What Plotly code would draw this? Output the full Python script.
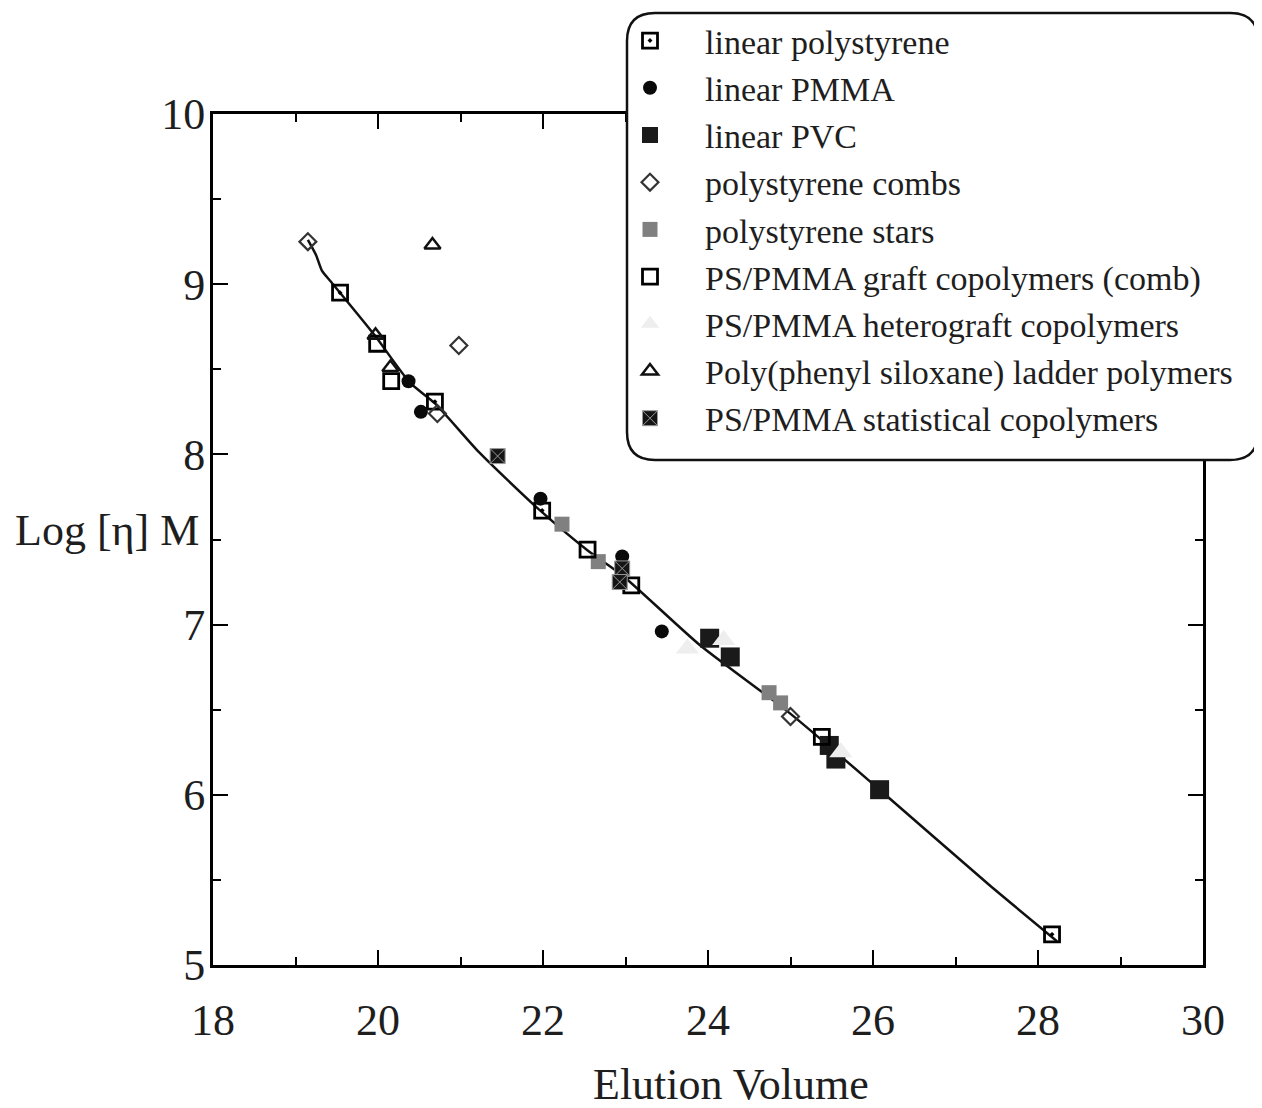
import plotly.graph_objects as go

# ---------------- data ----------------
fit_x = [19.15, 19.25, 19.32, 19.42, 19.54, 19.96, 20.39, 20.69, 21.23, 21.92,
         22.53, 22.96, 23.90, 24.99, 26.08, 27.41, 28.23]
fit_y = [9.26, 9.17, 9.08, 9.02, 8.95, 8.70, 8.42, 8.30, 8.01, 7.69,
         7.44, 7.29, 6.88, 6.48, 6.03, 5.47, 5.14]

linear_ps_x = [19.54, 20.69, 21.99, 28.17]
linear_ps_y = [8.95, 8.31, 7.67, 5.18]

linear_pmma_x = [20.37, 20.52, 21.97, 22.96, 23.44]
linear_pmma_y = [8.43, 8.25, 7.74, 7.40, 6.96]

linear_pvc_x = [24.02, 24.27, 25.47, 25.55, 26.08]
linear_pvc_y = [6.92, 6.81, 6.29, 6.21, 6.03]

ps_combs_x = [19.15, 20.98, 20.72, 25.00]
ps_combs_y = [9.25, 8.64, 8.24, 6.46]

ps_stars_x = [22.23, 22.67, 24.74, 24.88]
ps_stars_y = [7.59, 7.37, 6.60, 6.54]

graft_x = [19.99, 20.16, 22.54, 23.07, 25.38]
graft_y = [8.65, 8.43, 7.44, 7.23, 6.34]

heterograft_x = [23.75, 24.19, 25.61]
heterograft_y = [6.86, 6.91, 6.25]

ladder_x = [20.66, 19.97, 20.15]
ladder_y = [9.23, 8.70, 8.51]

statistical_x = [21.45, 22.96, 22.93]
statistical_y = [7.99, 7.33, 7.25]

x_ticks = [18, 20, 22, 24, 26, 28, 30]
y_ticks = [5, 6, 7, 8, 9, 10]

# ---------------- figure ----------------
FONT = "Liberation Serif"
OFF = 8                      # page body margin in the browser
W, H = 1262 - OFF, 1108 - OFF
# plot area in screen pixels: x 213..1203, y 114..965
ML, MT = 213 - OFF, 114 - OFF
MR = W - (1203 - OFF)
MB = H - (965 - OFF)
PW, PH = W - ML - MR, H - MT - MB


def px(xs):
    """screen x pixel -> paper x"""
    return (xs - OFF - ML) / PW


def py(ys):
    """screen y pixel -> paper y"""
    return (H - MB - (ys - OFF)) / PH


fig = go.Figure()

fig.add_trace(go.Scatter(x=fit_x, y=fit_y, mode="lines", showlegend=False,
                         line=dict(color="#111111", width=2.5, shape="spline", smoothing=0.6),
                         hoverinfo="skip"))

series = [
    ("linear polystyrene", linear_ps_x, linear_ps_y,
     dict(symbol="square-open-dot", size=15, color="#000000", line=dict(width=2.8, color="#000000"))),
    ("linear PMMA", linear_pmma_x, linear_pmma_y,
     dict(symbol="circle", size=14, color="#0a0a0a", line=dict(width=0))),
    ("linear PVC", linear_pvc_x, linear_pvc_y,
     dict(symbol="square", size=19, color="#1a1a1a", line=dict(width=0))),
    ("polystyrene combs", ps_combs_x, ps_combs_y,
     dict(symbol="diamond-open", size=13, color="#333333", line=dict(width=2.2, color="#333333"))),
    ("polystyrene stars", ps_stars_x, ps_stars_y,
     dict(symbol="square", size=15, color="#808080", line=dict(width=0))),
    ("PS/PMMA graft copolymers (comb)", graft_x, graft_y,
     dict(symbol="square-open", size=15, color="#000000", line=dict(width=2.8, color="#000000"))),
    ("PS/PMMA heterograft copolymers", heterograft_x, heterograft_y,
     dict(symbol="triangle-up", size=20, color="#eeeeee", line=dict(width=0))),
    ("Poly(phenyl siloxane) ladder polymers", ladder_x, ladder_y,
     dict(symbol="triangle-up-open", size=14, color="#111111", line=dict(width=2.5, color="#111111"))),
    ("PS/PMMA statistical copolymers", statistical_x, statistical_y,
     dict(symbol="square-x", size=15, color="#151515", line=dict(width=1, color="#9a9a9a"))),
]

for name, xs, ys, mk in series:
    fig.add_trace(go.Scatter(x=xs, y=ys, mode="markers", name=name, marker=mk, cliponaxis=False))

axis_common = dict(
    showgrid=False, zeroline=False, showline=True, linecolor="#000000", linewidth=3,
    mirror="ticks", ticks="inside", ticklen=15, tickwidth=2, tickcolor="#000000",
    tickfont=dict(family=FONT, size=44, color="#1e1e1e"),
)

fig.update_xaxes(range=[18, 30], tickvals=x_ticks, ticklabelstandoff=14,
                 minor=dict(dtick=1, ticks="inside", ticklen=8, tickwidth=2, tickcolor="#000000"),
                 **axis_common)
fig.update_yaxes(range=[5, 10], tickvals=y_ticks, ticklabelstandoff=-4,
                 minor=dict(dtick=0.5, ticks="inside", ticklen=8, tickwidth=2, tickcolor="#000000"),
                 **axis_common)

# rounded legend frame (screen pixels)
L, R, T, B, r = 627, 1258, 13, 460, 28
path = (f"M {px(L + r)},{py(T)} L {px(R - r)},{py(T)} Q {px(R)},{py(T)} {px(R)},{py(T + r)} "
        f"L {px(R)},{py(B - r)} Q {px(R)},{py(B)} {px(R - r)},{py(B)} "
        f"L {px(L + r)},{py(B)} Q {px(L)},{py(B)} {px(L)},{py(B - r)} "
        f"L {px(L)},{py(T + r)} Q {px(L)},{py(T)} {px(L + r)},{py(T)} Z")
fig.add_shape(type="path", path=path, xref="paper", yref="paper", layer="above",
              fillcolor="#ffffff", line=dict(color="#111111", width=2.5))

fig.add_annotation(text="Log [η] M", x=px(201), y=py(530), xref="paper", yref="paper",
                   xanchor="right", yanchor="middle", showarrow=False,
                   font=dict(family=FONT, size=44, color="#1e1e1e"))
fig.add_annotation(text="Elution Volume", x=px(731), y=py(1084), xref="paper", yref="paper",
                   xanchor="center", yanchor="middle", showarrow=False,
                   font=dict(family=FONT, size=44, color="#1e1e1e"))

fig.update_layout(
    width=W, height=H, autosize=False,
    margin=dict(l=ML, r=MR, t=MT, b=MB, pad=0, autoexpand=False),
    paper_bgcolor="#ffffff", plot_bgcolor="#ffffff",
    showlegend=True,
    legend=dict(x=px(595), y=py(12), xanchor="left", yanchor="top",
                bgcolor="rgba(0,0,0,0)", borderwidth=0, itemwidth=100,
                font=dict(family=FONT, size=34, color="#1e1e1e"),
                tracegroupgap=0),
)

fig.write_html("out.html")
